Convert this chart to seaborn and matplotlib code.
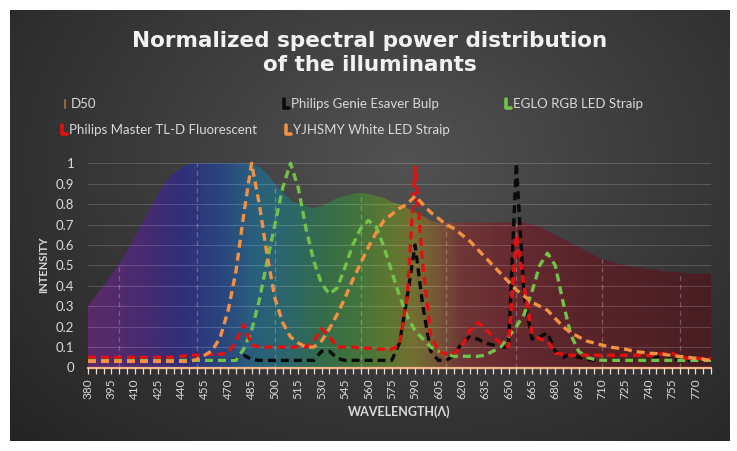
import numpy as np
import pandas as pd
import matplotlib
matplotlib.use("Agg")
import matplotlib.pyplot as plt
import seaborn as sns
from matplotlib.colors import LinearSegmentedColormap
from matplotlib.lines import Line2D

# ---- data ----
wavelength = list(range(380, 785, 5))

d50 = [0.30, 0.35, 0.40, 0.45, 0.51, 0.57, 0.64, 0.71, 0.78, 0.85,   # 380-425
       0.91, 0.95, 0.98, 1.00, 1.00, 1.00, 1.00, 1.00, 1.00, 1.00,   # 430-475
       1.00, 1.00, 0.98, 0.95, 0.90, 0.86, 0.82, 0.80, 0.79, 0.78,   # 480-525
       0.79, 0.81, 0.83, 0.84, 0.85, 0.855, 0.85, 0.84, 0.83, 0.81,  # 530-575
       0.80, 0.78, 0.76, 0.74, 0.72, 0.71, 0.71, 0.71, 0.71, 0.71,   # 580-625
       0.71, 0.71, 0.71, 0.71, 0.71, 0.71, 0.71, 0.70, 0.69, 0.67,   # 630-675
       0.65, 0.63, 0.61, 0.59, 0.57, 0.55, 0.53, 0.52, 0.51, 0.50,   # 680-725
       0.49, 0.49, 0.48, 0.48, 0.47, 0.47, 0.47, 0.46, 0.46, 0.46,   # 730-775
       0.46]                                                         # 780

genie = [0.035] * 19 + [0.04, 0.06, 0.04] + [0.035] * 8 + [0.08, 0.08, 0.045] + [0.035] * 7 + \
        [0.12, 0.35, 0.60, 0.30, 0.08, 0.035, 0.035, 0.06, 0.12, 0.15,
         0.14, 0.12, 0.11, 0.10, 0.10, 1.00, 0.35, 0.14, 0.15, 0.17,
         0.08, 0.05, 0.065, 0.05, 0.04] + [0.035] * 8 + [0.05, 0.07, 0.045] + [0.035] * 5

eglo = [0.035] * 20 + \
       [0.09, 0.18, 0.33, 0.52, 0.70, 0.88, 1.00, 0.88, 0.68, 0.52,
        0.41, 0.36, 0.39, 0.49, 0.60, 0.68, 0.72, 0.69, 0.59, 0.47,
        0.35, 0.25, 0.18, 0.14, 0.10, 0.08, 0.065, 0.055, 0.055, 0.055,
        0.055, 0.06, 0.08, 0.10, 0.15, 0.20, 0.26, 0.37, 0.50, 0.56,
        0.50, 0.32, 0.16, 0.08, 0.05, 0.04] + [0.035] * 15

tld = [0.05] * 12 + [0.055, 0.06, 0.06, 0.065, 0.065, 0.065, 0.07, 0.13, 0.21, 0.11] + [0.10] * 7 + \
      [0.13, 0.19, 0.15, 0.10, 0.10, 0.10, 0.095, 0.095, 0.09, 0.09, 0.09,
       0.11, 0.35, 0.98, 0.50, 0.16, 0.08, 0.065, 0.07, 0.10, 0.18,
       0.22, 0.19, 0.15, 0.12, 0.10, 0.65, 0.40, 0.17, 0.14, 0.13,
       0.07, 0.065] + [0.06] * 12 + [0.07, 0.07, 0.05] + [0.045] * 4

yjhsmy = [0.03] * 14 + \
         [0.04, 0.06, 0.085, 0.15, 0.28, 0.47, 0.75, 1.00, 0.80, 0.55,
          0.34, 0.22, 0.15, 0.12, 0.10, 0.10, 0.13, 0.19, 0.26, 0.34,
          0.43, 0.51, 0.59, 0.66, 0.72, 0.75, 0.78, 0.80, 0.84, 0.80,
          0.76, 0.73, 0.70, 0.68, 0.65, 0.62, 0.58, 0.54, 0.50, 0.46,
          0.42, 0.38, 0.35, 0.32, 0.30, 0.28, 0.24, 0.20, 0.17, 0.15,
          0.13, 0.12, 0.11, 0.10, 0.095, 0.09, 0.08, 0.075, 0.07, 0.068,
          0.064, 0.058, 0.054, 0.05, 0.045, 0.04, 0.035]

names = ["D50", "Philips Genie Esaver Bulp", "EGLO RGB LED Straip",
         "Philips Master TL-D Fluorescent", "YJHSMY White LED Straip"]
line_colors = {"Philips Genie Esaver Bulp": "#0a0a0a",
               "EGLO RGB LED Straip": "#72c24a",
               "Philips Master TL-D Fluorescent": "#e41010",
               "YJHSMY White LED Straip": "#f39142"}

x_ticks = list(range(380, 771, 15))
y_ticks = [i / 10 for i in range(11)]
drop_wl = [400, 450, 500, 555, 610, 655, 710, 760]

# spectrum-like colours used for the D50 area
spec_stops = [(380, "#5e2a6c"), (410, "#4d2a74"), (440, "#302f7c"), (465, "#2a4683"),
              (485, "#286182"), (510, "#2b6a6c"), (530, "#346f4c"), (555, "#46783a"),
              (575, "#627a30"), (590, "#767232"), (605, "#7a5636"), (620, "#723636"),
              (650, "#6a2a31"), (700, "#5a2329"), (780, "#4a1d23")]

df = pd.DataFrame({"wavelength": wavelength, names[1]: genie, names[2]: eglo,
                   names[3]: tld, names[4]: yjhsmy})
long = df.melt(id_vars="wavelength", var_name="illuminant", value_name="intensity")

# ---- figure ----
sns.set_theme(style="dark")
plt.rcParams['font.family'] = ['Lato', 'DejaVu Sans']

W, H = 737, 451
fig = plt.figure(figsize=(W / 100, H / 100), dpi=100, facecolor="white")


def fx(x):
    return x / W


def fy(y):
    return 1 - y / H


# dark radial background panel
bg = fig.add_axes([fx(10), fy(441), 720 / W, 431 / H])
bg.set_axis_off()
yy, xx = np.mgrid[0:1:300j, 0:1:500j]
r = np.sqrt(((xx - 0.55) / 0.75) ** 2 + ((yy - 0.35) / 0.95) ** 2)
bg_cmap = LinearSegmentedColormap.from_list("bg", ["#525252", "#3a3a3a", "#242424"])
bg.imshow(np.clip(r, 0, 1), cmap=bg_cmap, vmin=0, vmax=1, origin="upper",
          extent=[0, 1, 0, 1], aspect="auto")

ax = fig.add_axes([fx(88), fy(367.5), (711 - 88) / W, (367.5 - 163.3) / H])
ax.patch.set_alpha(0)

# D50 area with a wavelength colour gradient
spec_cmap = LinearSegmentedColormap.from_list(
    "spec", [((w - 380) / 400, c) for w, c in spec_stops])
im = ax.imshow(np.linspace(0, 1, 400)[None, :], cmap=spec_cmap, extent=[380, 780, 0, 1],
               aspect="auto", zorder=1, alpha=0.95)
poly = ax.fill_between(wavelength, d50, 0, facecolor="none", edgecolor="none")
im.set_clip_path(poly.get_paths()[0], transform=ax.transData)

ax.vlines(drop_wl, 0, [d50[wavelength.index(w)] for w in drop_wl],
          colors="white", alpha=0.25, linestyles=(0, (4, 3)), linewidth=0.9, zorder=2)

sns.lineplot(data=long, x="wavelength", y="intensity", hue="illuminant",
             hue_order=names[1:], palette=line_colors, linewidth=2.4,
             ax=ax, legend=False, zorder=4)
for ln in ax.lines:
    ln.set_dashes([2.4, 1.5])
    ln.set_clip_on(False)

ax.set_xlim(380, 780)
ax.set_ylim(0, 1)

ax.set_xticks(x_ticks)
ax.set_xticklabels([str(v) for v in x_ticks], rotation=90)
ax.set_xticks(wavelength, minor=True)
ax.set_yticks(y_ticks)
ax.set_yticklabels(["0" if v == 0 else ("1" if v == 1 else f"{v:.1f}") for v in y_ticks])

ax.tick_params(axis="x", which="both", direction="out", length=4, width=0.9,
               color="#f3dccb", labelcolor="#d9d9d9", labelsize=8.5, pad=4, bottom=True)
ax.tick_params(axis="y", length=0, labelcolor="#d9d9d9", labelsize=9.5, pad=10)

ax.set_axisbelow(False)
ax.yaxis.grid(True, color="white", alpha=0.16, linewidth=0.8)
ax.xaxis.grid(False)
for s in ["top", "left", "right"]:
    ax.spines[s].set_visible(False)
ax.spines["bottom"].set_color("#f2b48a")
ax.spines["bottom"].set_linewidth(1.6)
ax.set_xlabel("")
ax.set_ylabel("")

# texts
fig.text(fx(370), fy(53), "Normalized spectral power distribution\nof the illuminants",
         ha="center", va="center", fontsize=15.5, fontweight="bold", color="#f2f2f2",
         family=["DejaVu Sans"], linespacing=1.3)
fig.text(fx(44), fy(265), "INTENSITY", rotation=90, ha="center", va="center",
         fontsize=8, fontweight="bold", color="#d9d9d9")
fig.text(fx(399), fy(412), "WAVELENGTH(Λ)", ha="center", va="center",
         fontsize=9, fontweight="bold", color="#d9d9d9")

# legend, laid out like the original (3 columns, 2 rows)
legend_pos = {names[0]: (64, 104), names[1]: (284, 104), names[2]: (506, 104),
              names[3]: (62, 130), names[4]: (286, 130)}
for name in names:
    x0, y0 = legend_pos[name]
    if name == "D50":
        fig.add_artist(Line2D([fx(x0 + 1), fx(x0 + 1)], [fy(y0 + 4), fy(y0 - 4)],
                              color="#8a6a3a", linewidth=1.5))
    else:
        fig.add_artist(Line2D([fx(x0), fx(x0), fx(x0 + 5)],
                              [fy(y0 - 5), fy(y0 + 4), fy(y0 + 4)],
                              color=line_colors[name], linewidth=2.6))
    fig.text(fx(x0 + 7), fy(y0), name, ha="left", va="center", fontsize=9.5,
             color="#d9d9d9")

fig.savefig("out.png", dpi=100, facecolor="white")
